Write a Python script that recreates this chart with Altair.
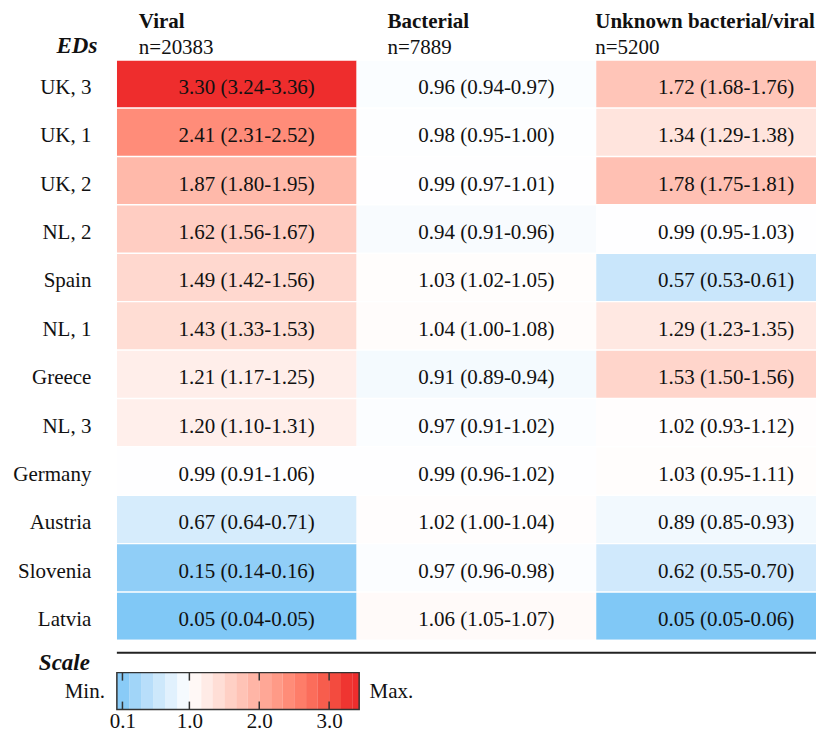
import altair as alt
import pandas as pd

rows = ["UK, 3", "UK, 1", "UK, 2", "NL, 2", "Spain", "NL, 1", "Greece", "NL, 3",
        "Germany", "Austria", "Slovenia", "Latvia"]
cols = ["Viral", "Bacterial", "Unknown bacterial/viral"]
col_n = ["n=20383", "n=7889", "n=5200"]

viral_est = [3.30, 2.41, 1.87, 1.62, 1.49, 1.43, 1.21, 1.20, 0.99, 0.67, 0.15, 0.05]
viral_lo = [3.24, 2.31, 1.80, 1.56, 1.42, 1.33, 1.17, 1.10, 0.91, 0.64, 0.14, 0.04]
viral_hi = [3.36, 2.52, 1.95, 1.67, 1.56, 1.53, 1.25, 1.31, 1.06, 0.71, 0.16, 0.05]

bact_est = [0.96, 0.98, 0.99, 0.94, 1.03, 1.04, 0.91, 0.97, 0.99, 1.02, 0.97, 1.06]
bact_lo = [0.94, 0.95, 0.97, 0.91, 1.02, 1.00, 0.89, 0.91, 0.96, 1.00, 0.96, 1.05]
bact_hi = [0.97, 1.00, 1.01, 0.96, 1.05, 1.08, 0.94, 1.02, 1.02, 1.04, 0.98, 1.07]

unk_est = [1.72, 1.34, 1.78, 0.99, 0.57, 1.29, 1.53, 1.02, 1.03, 0.89, 0.62, 0.05]
unk_lo = [1.68, 1.29, 1.75, 0.95, 0.53, 1.23, 1.50, 0.93, 0.95, 0.85, 0.55, 0.05]
unk_hi = [1.76, 1.38, 1.81, 1.03, 0.61, 1.35, 1.56, 1.12, 1.11, 0.93, 0.70, 0.06]

legend_edges = [0.025, 0.19, 0.35, 0.52, 0.68, 0.84, 1.0, 1.17, 1.33, 1.5, 1.67,
                1.83, 2.0, 2.17, 2.33, 2.5, 2.67, 2.83, 3.0, 3.17, 3.33, 3.43]
tick_vals = [0.1, 1.0, 2.0, 3.0]

recs = []
for c, est, lo, hi in zip(cols, [viral_est, bact_est, unk_est],
                          [viral_lo, bact_lo, unk_lo], [viral_hi, bact_hi, unk_hi]):
    for r, e, l, h in zip(rows, est, lo, hi):
        recs.append({"row": r, "col": c, "est": e,
                     "label": f"{e:.2f} ({l:.2f}-{h:.2f})"})
df = pd.DataFrame(recs)
hdr = pd.DataFrame({"col": cols, "name": cols, "n": col_n})

FONT = "Liberation Serif, Times New Roman, Times, DejaVu Serif, serif"
INK = "#111111"
W, H = 700, 580

color_scale = alt.Scale(domain=[0.05, 1.0, 3.3],
                        range=["#80c8f6", "#ffffff", "#ee2d2d"],
                        interpolate="lab", clamp=True)

xs = alt.Scale(paddingInner=0, paddingOuter=0, range=[0, 720])
x_enc = alt.X("col:N", sort=cols, scale=xs, axis=None)
y_axis = alt.Axis(title="EDs", titleAngle=0, titleAlign="right",
                  titleBaseline="alphabetic", titleX=-20, titleY=-8,
                  titleFont=FONT, titleFontSize=23, titleFontStyle="italic",
                  titleFontWeight="bold", titleColor=INK,
                  labelFont=FONT, labelFontSize=21, labelColor=INK,
                  labelPadding=26, labelOffset=4, ticks=False, domain=False,
                  minExtent=109, maxExtent=109)
y_enc = alt.Y("row:N", sort=rows,
              scale=alt.Scale(paddingInner=0.03, paddingOuter=0), axis=y_axis)

rects = alt.Chart(df).mark_rect(clip=True).encode(
    x=x_enc, y=y_enc,
    color=alt.Color("est:Q", scale=color_scale, legend=None))

cell_text = alt.Chart(df).mark_text(font=FONT, fontSize=21, color=INK,
                                    dx=10, dy=4).encode(
    x=x_enc, y=y_enc, text="label:N")

header_layers = []
for c, dxv in zip(cols, [22, 31, -1]):
    base = alt.Chart(hdr).transform_filter(alt.datum.col == c)
    hx = alt.X("col:N", sort=cols, bandPosition=0, scale=xs, axis=None)
    header_layers.append(base.mark_text(font=FONT, fontSize=21, fontWeight="bold",
                                        color=INK, align="left", dx=dxv,
                                        baseline="alphabetic").encode(
        x=hx, y=alt.value(-32), text="name:N"))
    header_layers.append(base.mark_text(font=FONT, fontSize=21, color=INK,
                                        align="left", dx=dxv,
                                        baseline="alphabetic").encode(
        x=hx, y=alt.value(-6), text="n:N"))

heat = alt.layer(rects, cell_text, *header_layers).properties(width=W, height=H)

# ---- scale legend ----
BH = 37
lx = alt.Scale(domain=[legend_edges[0], 1.0, legend_edges[-1]],
               range=[0, 72.6, 242.6], zero=False, nice=False)
lx_axis = alt.Axis(values=tick_vals, format=".1f", title=None, domain=False,
                   ticks=False, grid=False, labelFont=FONT, labelFontSize=21,
                   labelColor=INK, labelPadding=1)


def leg_x(field):
    return alt.X(field, type="quantitative", scale=lx, axis=lx_axis)


leg_df = pd.DataFrame({"lo": legend_edges[:-1], "hi": legend_edges[1:]})
bands = alt.Chart(leg_df).transform_calculate(
    mid="(datum.lo + datum.hi) / 2").mark_rect().encode(
    x=leg_x("lo"), x2="hi:Q", y=alt.value(0), y2=alt.value(BH),
    color=alt.Color("mid:Q", scale=color_scale, legend=None))

box_df = pd.DataFrame({"a": [legend_edges[0]], "b": [legend_edges[-1]]})
box = alt.Chart(box_df).mark_rect(filled=False, stroke="#333333",
                                  strokeWidth=1.5).encode(
    x=leg_x("a"), x2="b:Q", y=alt.value(0), y2=alt.value(BH))

tick_df = pd.DataFrame({"v": tick_vals})
ticks_top = alt.Chart(tick_df).mark_rule(color="#333333", strokeWidth=1.5).encode(
    x=leg_x("v"), y=alt.value(0), y2=alt.value(8))
ticks_bot = alt.Chart(tick_df).mark_rule(color="#333333", strokeWidth=1.5).encode(
    x=leg_x("v"), y=alt.value(BH - 8), y2=alt.value(BH))

sep = alt.Chart(pd.DataFrame({"k": [0]})).mark_rule(color="#222222",
                                                   strokeWidth=2).encode(
    x=alt.value(0), x2=alt.value(W), y=alt.value(-20))

min_t = alt.Chart(pd.DataFrame({"t": ["Min."]})).mark_text(
    font=FONT, fontSize=21, color=INK, align="right", baseline="middle").encode(
    x=alt.value(-12), y=alt.value(BH / 2 + 1), text="t:N")
max_t = alt.Chart(pd.DataFrame({"t": ["Max."]})).mark_text(
    font=FONT, fontSize=21, color=INK, align="left", baseline="middle").encode(
    x=alt.value(253), y=alt.value(BH / 2 + 1), text="t:N")
scale_t = alt.Chart(pd.DataFrame({"t": ["Scale"]})).mark_text(
    font=FONT, fontSize=23, color=INK, fontWeight="bold", fontStyle="italic",
    align="right", baseline="alphabetic").encode(
    x=alt.value(-27), y=alt.value(-3), text="t:N")

legend = alt.layer(bands, box, ticks_top, ticks_bot, sep, min_t, max_t,
                   scale_t).properties(width=W, height=BH)

chart = alt.vconcat(heat, legend, spacing=12).resolve_scale(
    x="independent", y="independent", color="shared"
).properties(
    padding={"left": 0, "top": 3, "right": 0, "bottom": 0}
).configure_view(stroke=None)

chart.save("out.html", embed_options={"renderer": "svg", "actions": False})
